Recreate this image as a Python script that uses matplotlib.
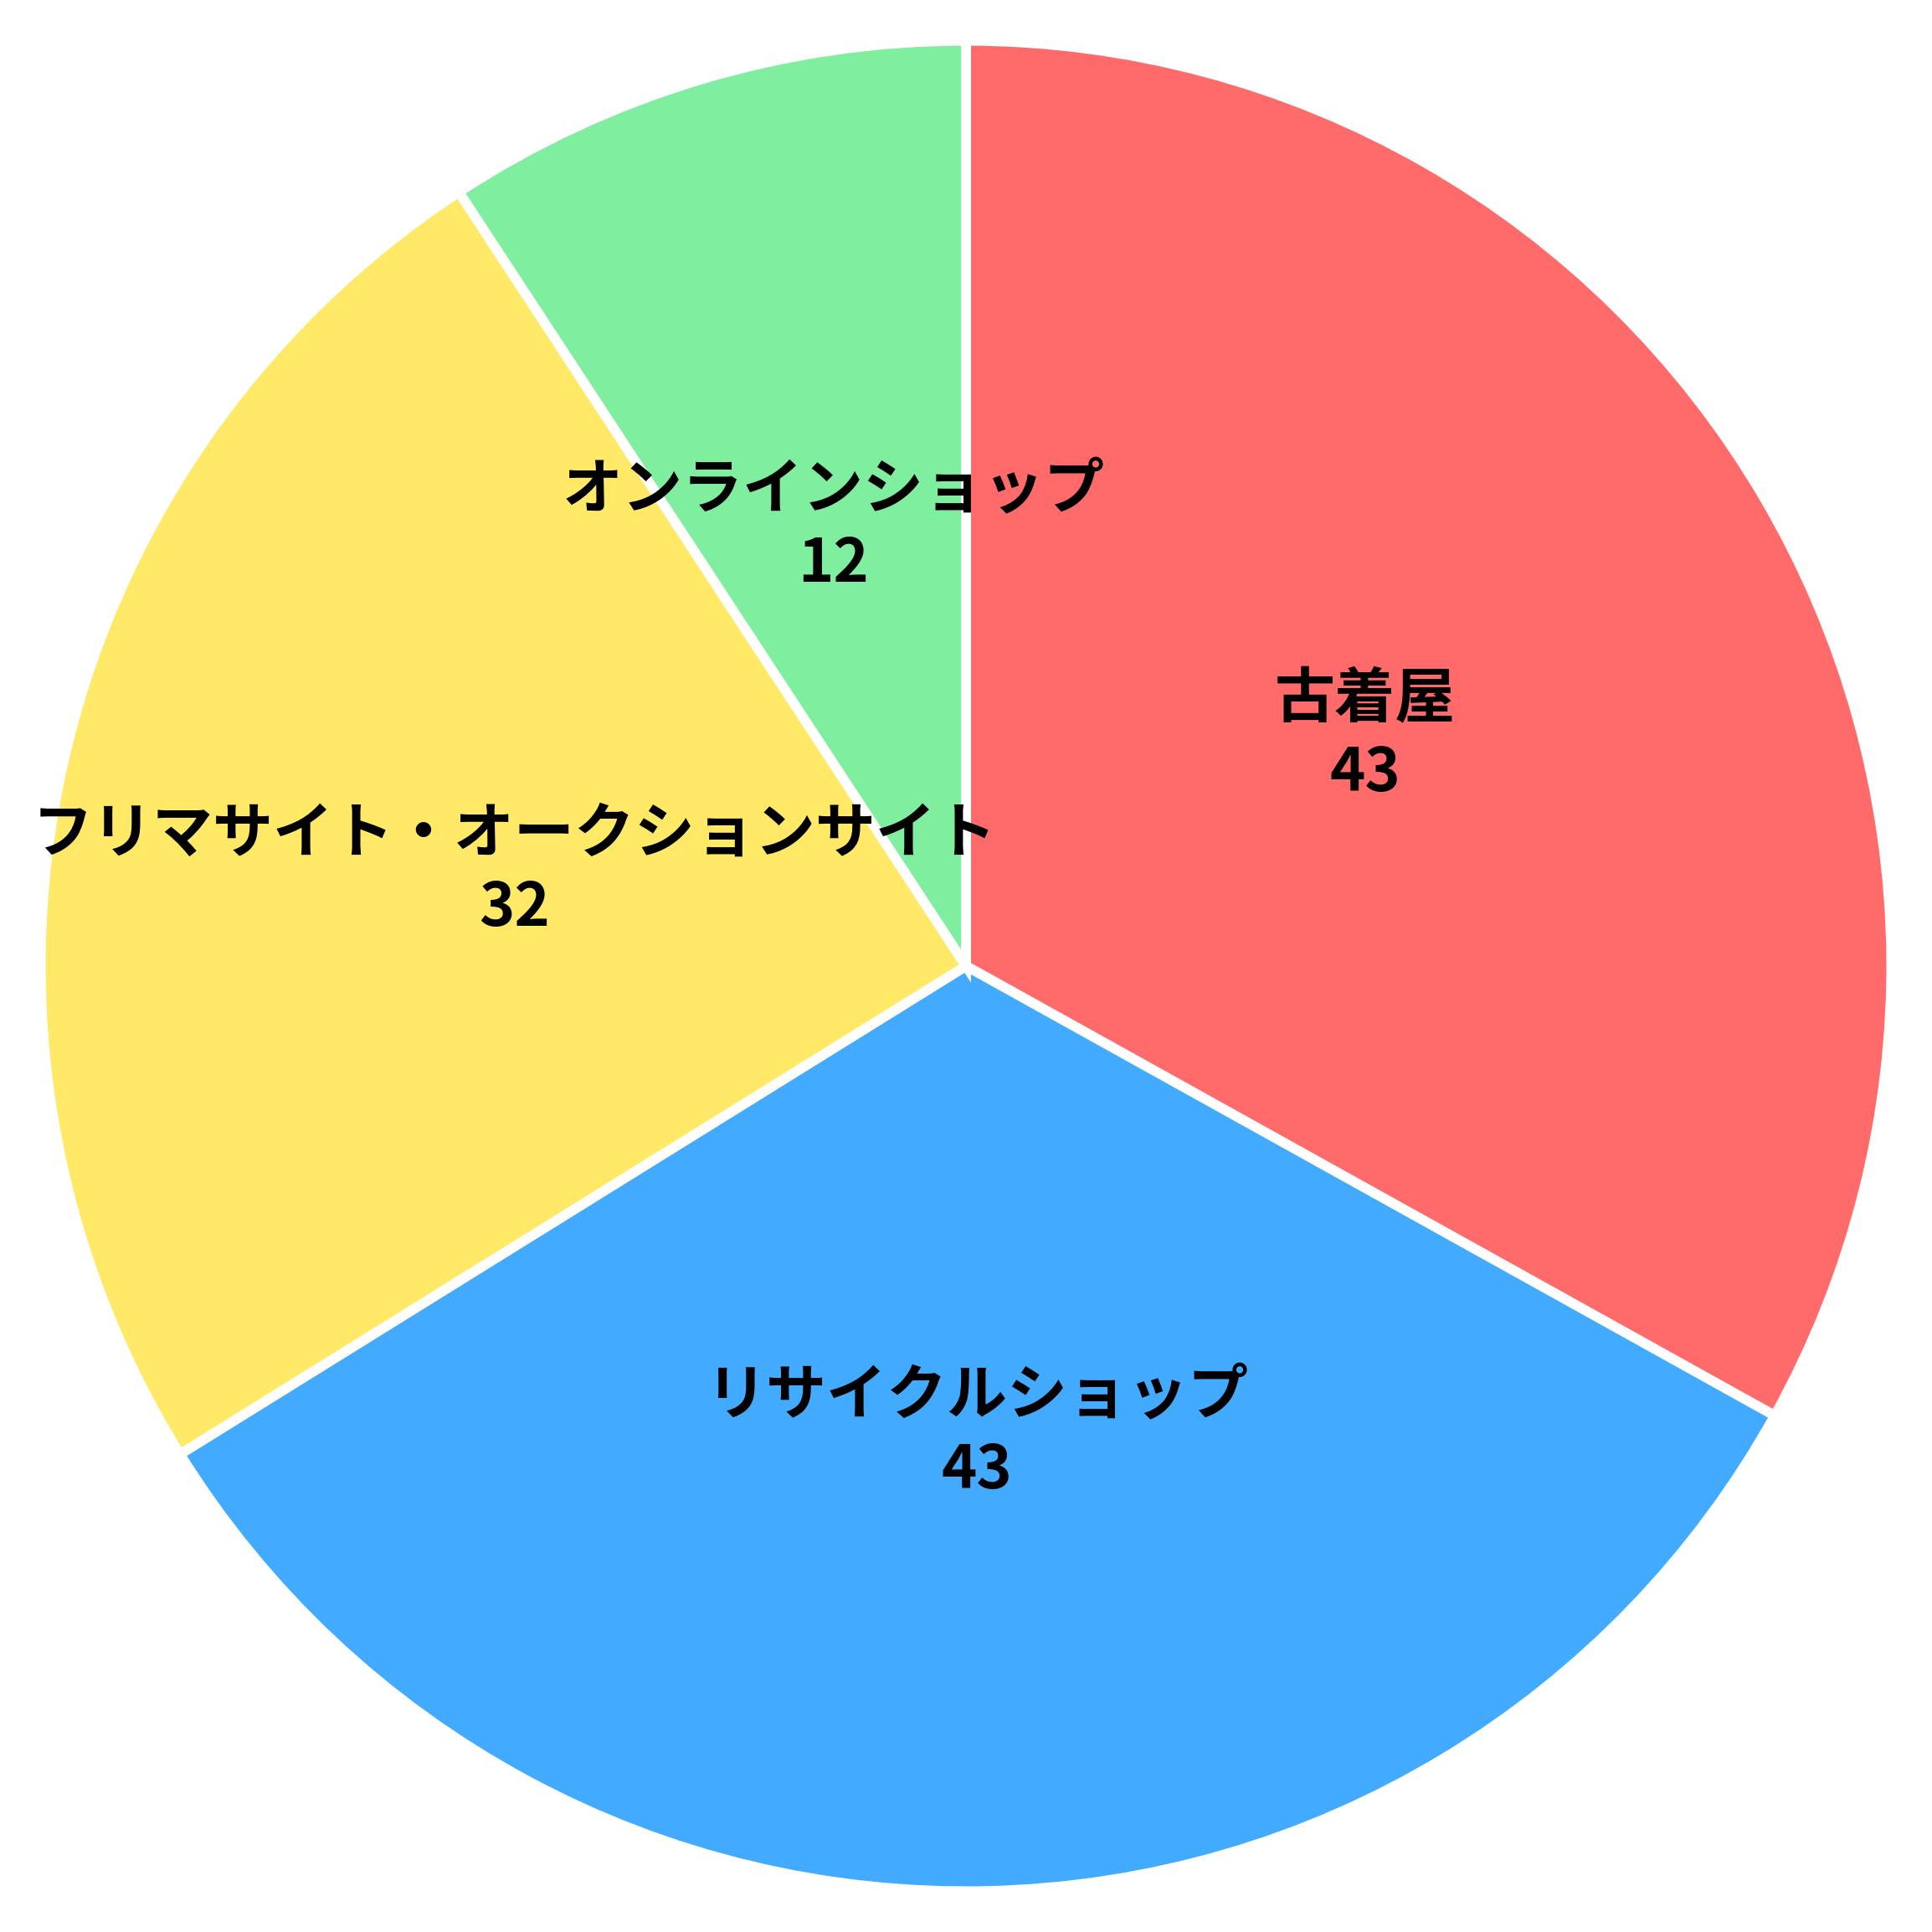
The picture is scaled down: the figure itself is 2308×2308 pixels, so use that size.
import matplotlib
matplotlib.use("Agg")
import matplotlib.pyplot as plt
from matplotlib import transforms

plt.rcParams['font.family'] = ['Noto Sans CJK JP', 'DejaVu Sans']

categories = ["古着屋", "リサイクルショップ", "フリマサイト・オークションサイト", "オンラインショップ"]
values = [43, 43, 32, 12]
colors = ["#ff6b6b", "#42abff", "#ffe966", "#80ee9f"]

labels = [f"{c}\n{v}" for c, v in zip(categories, values)]

fig = plt.figure(figsize=(23.08, 23.08), dpi=100)
ax = fig.add_axes([0, 0, 1, 1])
wedges, texts = ax.pie(values, labels=labels, colors=colors, startangle=90,
                       counterclock=False, labeldistance=0.5,
                       wedgeprops=dict(edgecolor="white", linewidth=8.5),
                       textprops=dict(fontsize=51.8, fontweight="bold", color="black",
                                      ha="center", va="center", linespacing=1.28))
shift = transforms.ScaledTranslation(0, -6 / 100, fig.dpi_scale_trans)
for t in texts:
    t.set_horizontalalignment("center")
    t.set_verticalalignment("center")
    t.set_transform(t.get_transform() + shift)
ax.set_xlim(-1.044, 1.044)
ax.set_ylim(-1.044, 1.044)
ax.set_aspect("equal")
ax.axis("off")
fig.savefig("out.png", dpi=100, facecolor="white")
